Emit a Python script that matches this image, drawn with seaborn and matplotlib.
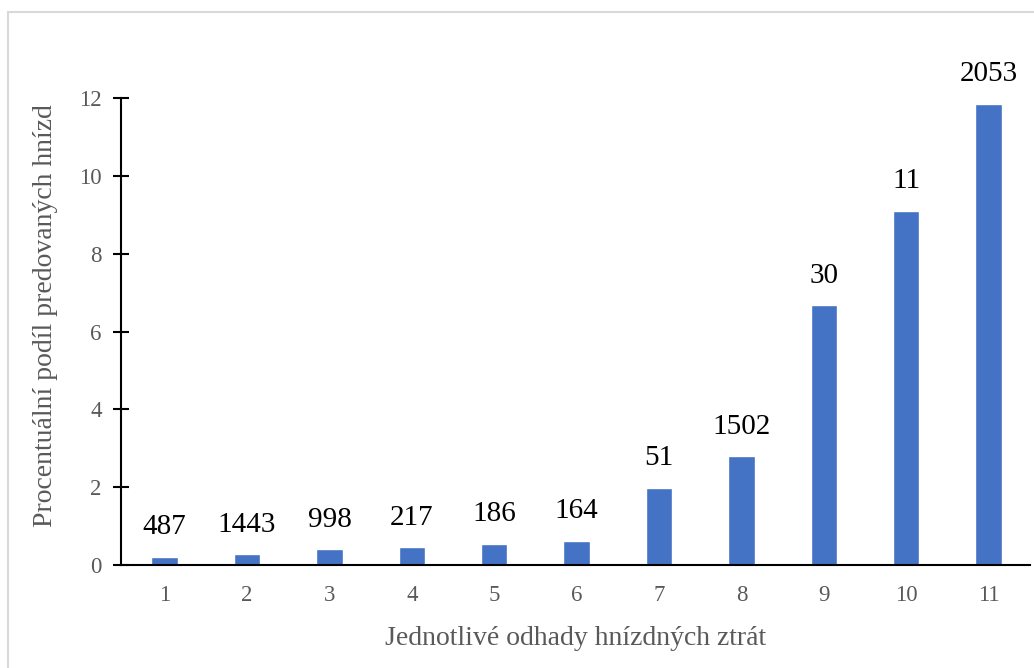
import matplotlib
matplotlib.use("Agg")
import matplotlib.pyplot as plt
import seaborn as sns
import pandas as pd
from matplotlib.patches import Rectangle

# chart values
odhady = ["1", "2", "3", "4", "5", "6", "7", "8", "9", "10", "11"]
podil = [0.21, 0.28, 0.41, 0.46, 0.54, 0.62, 1.98, 2.80, 6.68, 9.10, 11.85]
pocty = ["487", "1443", "998", "217", "186", "164", "51", "1502", "30", "11", "2053"]

df = pd.DataFrame({"odhad": odhady, "podil": podil, "n": pocty})

sns.set_theme(style="white")
plt.rcParams["font.family"] = ["Liberation Serif", "DejaVu Serif"]

fig = plt.figure(figsize=(10.34, 6.68), dpi=100)
ax = fig.add_axes([0.117, 0.154, 0.879, 0.699])

sns.barplot(data=df, x="odhad", y="podil", color="#4472C4", width=0.32,
            saturation=1, ax=ax)

# counts above the bars
for i, row in df.iterrows():
    ax.annotate(row["n"], (i, row["podil"]), xytext=(0, 12), textcoords="offset points",
                ha="center", va="bottom", fontsize=21, color="black", annotation_clip=False)

ax.set_xlim(-0.53, 10.5)
ax.set_ylim(0, 12)
ax.set_yticks(range(0, 13, 2))
ax.set_xlabel("Jednotlivé odhady hnízdných ztrát", fontsize=20, color="#595959", labelpad=15)
ax.set_ylabel("Procentuální podíl predovaných hnízd", fontsize=20, color="#595959")
ax.yaxis.set_label_coords(-0.069, 0.535)

sns.despine(ax=ax, top=True, right=True)
ax.spines["left"].set_color("black")
ax.spines["bottom"].set_color("black")
ax.spines["left"].set_linewidth(1.5)
ax.spines["bottom"].set_linewidth(1.5)
ax.tick_params(axis="y", direction="inout", length=12, width=1.5, color="black",
               labelsize=16.5, labelcolor="#595959", pad=8, left=True)
ax.tick_params(axis="x", length=0, labelsize=16.5, labelcolor="#595959", pad=14)

# light frame around the chart area
fig.patches.append(Rectangle((8 / 1034, -0.05), 1.2, 1 - 12 / 668 + 0.05,
                             transform=fig.transFigure, fill=False,
                             edgecolor="#d9d9d9", linewidth=1.5))

fig.savefig("out.png", dpi=100)
